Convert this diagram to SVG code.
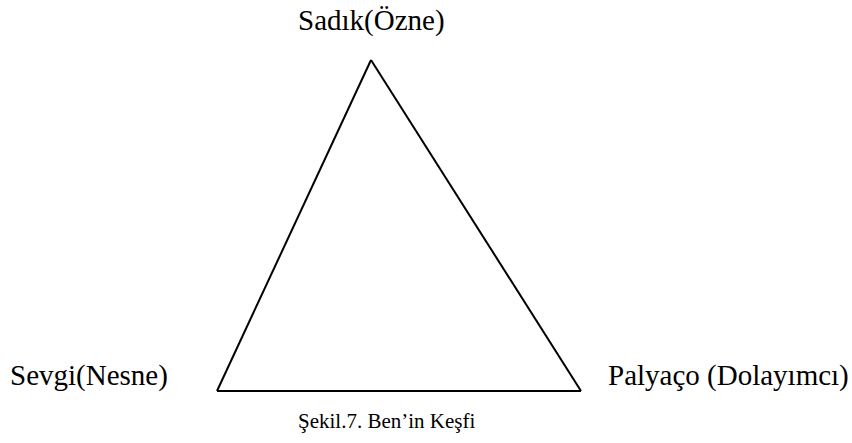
<svg xmlns="http://www.w3.org/2000/svg" width="852" height="443" viewBox="0 0 852 443">
<style>
text{font-family:"Liberation Serif","Times New Roman",serif;fill:#000}
.lbl{font-size:29px}
.cap{font-size:21px}
.edge{stroke:#000;stroke-width:2;fill:none}
</style>
<rect width="852" height="443" fill="#fff"/>
<g id="connectors">
<line class="edge" x1="371" y1="60" x2="217" y2="391"/>
<line class="edge" x1="371" y1="60" x2="581" y2="391"/>
<line class="edge" x1="217" y1="391" x2="581" y2="391"/>
</g>
<g id="sadik"><text class="lbl" x="298" y="30">Sadık(Özne)</text></g>
<g id="sevgi"><text class="lbl" x="10" y="385">Sevgi(Nesne)</text></g>
<g id="palyaco"><text class="lbl" x="608" y="385">Palyaço (Dolayımcı)</text></g>
<g id="caption"><text class="cap" x="298" y="428">Şekil.7. Ben’in Keşfi</text></g>
</svg>
